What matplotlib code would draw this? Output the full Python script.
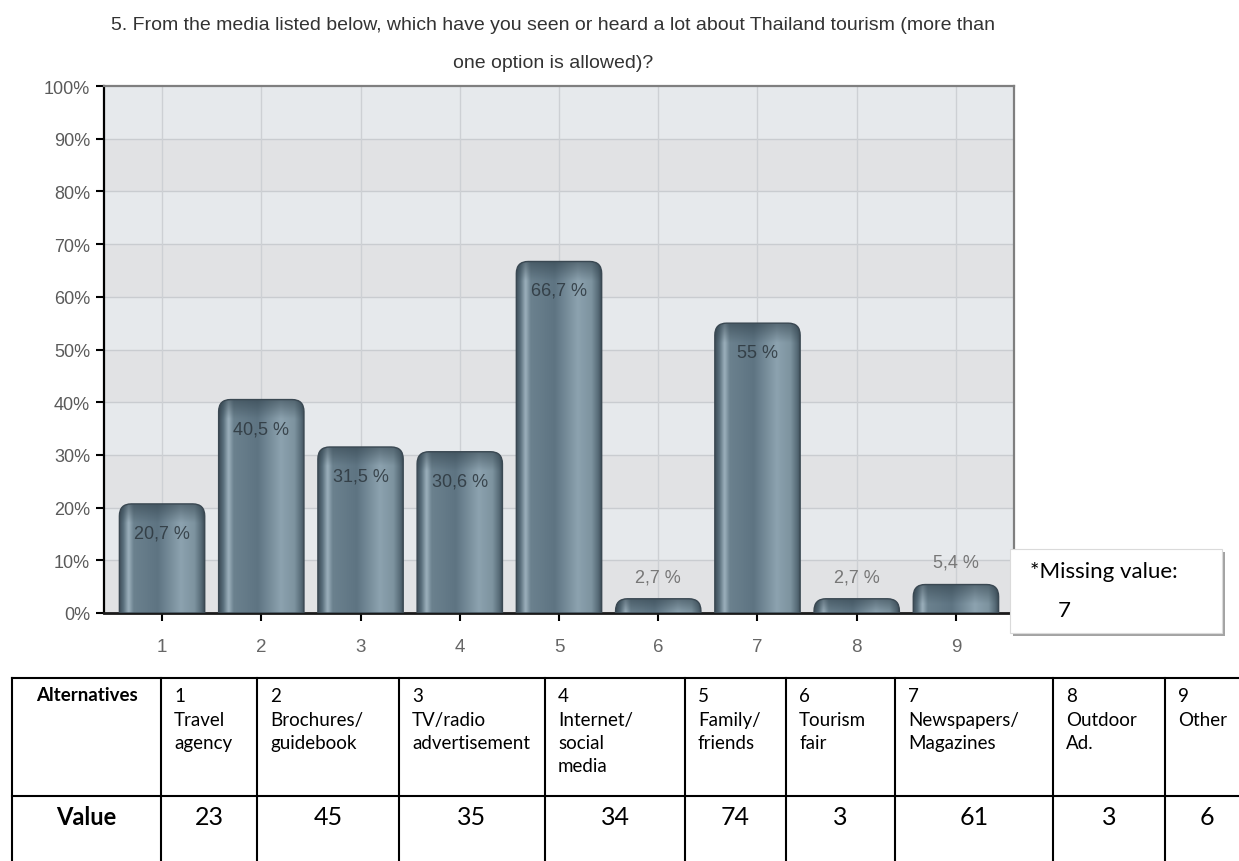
import numpy as np
import matplotlib
matplotlib.use("Agg")
import matplotlib.pyplot as plt
from matplotlib import font_manager
from matplotlib.colors import LinearSegmentedColormap
from matplotlib.patches import PathPatch, Rectangle
from matplotlib.path import Path

# ── Data ──────────────────────────────────────────────────────────────────────
categories = [1, 2, 3, 4, 5, 6, 7, 8, 9]
percent = [20.7, 40.5, 31.5, 30.6, 66.7, 2.7, 55, 2.7, 5.4]
counts = [23, 45, 35, 34, 74, 3, 61, 3, 6]
alternatives = [
    ["1", "Travel", "agency"],
    ["2", "Brochures/", "guidebook"],
    ["3", "TV/radio", "advertisement"],
    ["4", "Internet/", "social", "media"],
    ["5", "Family/", "friends"],
    ["6", "Tourism", "fair"],
    ["7", "Newspapers/", "Magazines"],
    ["8", "Outdoor", "Ad."],
    ["9", "Other"],
]
y_ticks = [0, 10, 20, 30, 40, 50, 60, 70, 80, 90, 100]
title_lines = [
    "5. From the media listed below, which have you seen or heard a lot about Thailand tourism (more than",
    "one option is allowed)?",
]
missing_note = ["*Missing value:", "7"]

# ── Fonts ─────────────────────────────────────────────────────────────────────
_installed = {f.name for f in font_manager.fontManager.ttflist}
CHART_FONT = "Liberation Sans Narrow" if "Liberation Sans Narrow" in _installed else "Liberation Sans"
DOC_FONT = "Lato" if "Lato" in _installed else "DejaVu Sans"

W, H = 1239, 862
fig = plt.figure(figsize=(W / 100, H / 100), dpi=100, facecolor="white")

# ── Chart area ────────────────────────────────────────────────────────────────
ax = fig.add_axes([104 / W, 1 - 614 / H, 910 / W, 527 / H])
ax.set_facecolor("#e6e9ec")
for lo in range(0, 100, 20):
    ax.axhspan(lo, lo + 10, color="#e1e2e4", lw=0, zorder=0)
for t in y_ticks[1:-1]:
    ax.axhline(t, color="#c9ccd0", lw=1, zorder=1)
for c in categories:
    ax.axvline(c, color="#cdd0d4", lw=1, zorder=1)

bars = ax.bar(categories, percent, width=0.86, color="none", zorder=2)

bar_cmap = LinearSegmentedColormap.from_list("steel", [
    (0.00, "#3d4d58"),
    (0.05, "#5a6f7c"),
    (0.11, "#9db1bd"),
    (0.17, "#6b818e"),
    (0.45, "#5e7482"),
    (0.72, "#8ca2af"),
    (0.88, "#7d939f"),
    (0.96, "#566a76"),
    (1.00, "#3b4a55"),
])
grad = np.linspace(0, 1, 256).reshape(1, -1)

# corner radius in data units (≈12 px each way)
RX, RY = 0.12, 2.3


def rounded_top(x0, w, h):
    ry = min(RY, h)
    rx = min(RX, w / 2)
    verts = [(x0, 0), (x0, h - ry), (x0, h), (x0 + rx, h),
             (x0 + w - rx, h), (x0 + w, h), (x0 + w, h - ry),
             (x0 + w, 0), (x0, 0)]
    codes = [Path.MOVETO, Path.LINETO, Path.CURVE3, Path.CURVE3,
             Path.LINETO, Path.CURVE3, Path.CURVE3, Path.LINETO, Path.CLOSEPOLY]
    return Path(verts, codes)


for rect in bars:
    x0, w, h = rect.get_x(), rect.get_width(), rect.get_height()
    path = rounded_top(x0, w, h)
    clip = PathPatch(path, transform=ax.transData, facecolor="none", edgecolor="none")
    ax.add_patch(clip)
    im = ax.imshow(grad, extent=[x0, x0 + w, 0, h], aspect="auto", cmap=bar_cmap,
                   interpolation="bicubic", zorder=3)
    im.set_clip_path(clip)
    # darker cap along the rounded top
    cap = min(RY * 1.6, h)
    shade = np.zeros((32, 1, 4))
    shade[..., :3] = (0.18, 0.24, 0.28)
    shade[:, 0, 3] = np.linspace(0.55, 0.0, 32)
    im2 = ax.imshow(shade, extent=[x0, x0 + w, h - cap, h], aspect="auto",
                    interpolation="bilinear", zorder=3.5)
    im2.set_clip_path(clip)
    ax.add_patch(PathPatch(path, transform=ax.transData, facecolor="none",
                           edgecolor="#3a4852", lw=1.0, zorder=4))

# value labels: inside tall bars, above short ones
for c, v in zip(categories, percent):
    txt = f"{v:g}".replace(".", ",") + " %"
    if v > 10:
        ax.text(c, v - 5.5, txt, ha="center", va="center", fontsize=13,
                family=CHART_FONT, color="#2c363d", alpha=0.85, zorder=5)
    else:
        ax.text(c, v + 4.2, txt, ha="center", va="center", fontsize=13,
                family=CHART_FONT, color="#777777", zorder=5)

ax.set_xlim(0.415, 9.585)
ax.set_ylim(0, 100)
ax.set_xticks(categories)
ax.set_xticklabels([str(c) for c in categories], family=CHART_FONT, fontsize=13.5, color="#666666")
ax.set_yticks(y_ticks)
ax.set_yticklabels([f"{t}%" for t in y_ticks], family=CHART_FONT, fontsize=13, color="#5a5a5a")
ax.tick_params(axis="y", length=6, width=1.5, color="black", pad=4)
ax.tick_params(axis="x", length=6, width=1.5, color="black", pad=12)
ax.spines["left"].set_color("black")
ax.spines["left"].set_linewidth(1.6)
ax.spines["bottom"].set_color("#1a1a1a")
ax.spines["bottom"].set_linewidth(2.0)
for s in ("top", "right"):
    ax.spines[s].set_color("#7f7f7f")
    ax.spines[s].set_linewidth(1.6)

# ── Title ─────────────────────────────────────────────────────────────────────
for i, line in enumerate(title_lines):
    fig.text(553 / W, 1 - (26 + 37 * i) / H, line, ha="center", va="center",
             family=CHART_FONT, fontsize=14, color="#333333")

# ── Overlay in pixel units: note box and table ────────────────────────────────
ov = fig.add_axes([0, 0, 1, 1], zorder=5)
ov.set_xlim(0, W)
ov.set_ylim(H, 0)
ov.axis("off")
ov.patch.set_alpha(0)

ov.add_patch(Rectangle((1013, 553), 212, 84, facecolor="#a3a3a3", edgecolor="none"))
ov.add_patch(Rectangle((1010, 550), 212, 84, facecolor="white", edgecolor="#dadada", lw=0.8))
ov.text(1030, 572, missing_note[0], ha="left", va="center", family=DOC_FONT,
        fontsize=16, color="black")
ov.text(1058, 611, missing_note[1], ha="left", va="center", family=DOC_FONT,
        fontsize=16, color="black")

col_edges = [12, 161, 257, 399, 545, 685, 786, 895, 1053, 1165, 1250]
row_top, row_mid, row_bot = 679, 797, 880
lw_tab = 1.5
ov.plot([col_edges[0], W + 5], [row_top, row_top], color="black", lw=lw_tab)
ov.plot([col_edges[0], W + 5], [row_mid, row_mid], color="black", lw=lw_tab)
for xe in col_edges:
    ov.plot([xe, xe], [row_top, row_bot], color="black", lw=lw_tab)

hdr_cx = (col_edges[0] + col_edges[1]) / 2
ov.text(hdr_cx, 696, "Alternatives", ha="center", va="center", family=DOC_FONT,
        fontsize=13.5, fontweight="bold", color="black")
ov.text(hdr_cx, 818, "Value", ha="center", va="center", family=DOC_FONT,
        fontsize=17, fontweight="bold", color="black")

for j, (lines, n) in enumerate(zip(alternatives, counts)):
    left, right = col_edges[j + 1], col_edges[j + 2]
    for k, s in enumerate(lines):
        ov.text(left + 13, 697 + 23.3 * k, s, ha="left", va="center",
                family=DOC_FONT, fontsize=13.5, color="black")
    ov.text((left + right) / 2 if j < 8 else left + 42, 818, str(n), ha="center",
            va="center", family=DOC_FONT, fontsize=18, color="black")

fig.savefig("out.png", dpi=100, facecolor="white")
